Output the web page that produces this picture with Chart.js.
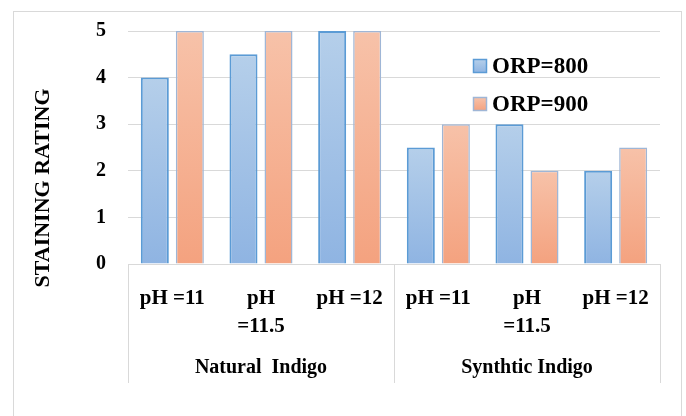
<!DOCTYPE html>
<html>
<head>
<meta charset="utf-8">
<script src="https://cdn.jsdelivr.net/npm/chart.js@4.4.0/dist/chart.umd.min.js"></script>
<style>
  html, body { margin: 0; padding: 0; background: #fff; }
  #wrap { width: 686px; height: 416px; }
</style>
</head>
<body>
<div id="wrap"><canvas id="c" width="686" height="416"></canvas></div>
<script>
const groups = ["Natural  Indigo", "Synthtic Indigo"];
const groupSize = 3;
const phLabels = [["pH =11"], ["pH", "=11.5"], ["pH =12"], ["pH =11"], ["pH", "=11.5"], ["pH =12"]];
const seriesNames = ["ORP=800", "ORP=900"];
const orp800 = [4, 4.5, 5, 2.5, 3, 2];
const orp900 = [5, 5, 5, 3, 2, 2.5];
const yTicks = [0, 1, 2, 3, 4, 5];
const yTitle = "STAINING RATING";

const FONT = "'Liberation Serif', serif";
const palettes = [
  { top: '#b5cfea', bottom: '#8fb4e2', border: '#5b9bd5', bw: 2 },
  { top: '#f7c2a9', bottom: '#f4a27f', border: '#9fb6d6', bw: 1.5 }
];

function barGradient(ctx, pal) {
  const chart = ctx.chart;
  const area = chart.chartArea;
  if (!area) return pal.bottom;
  const ys = chart.scales.y;
  const v = ctx.raw;
  const top = (typeof v === 'number') ? ys.getPixelForValue(v) : area.top;
  const bottom = ys.getPixelForValue(0);
  const g = chart.ctx.createLinearGradient(0, top, 0, Math.max(bottom, top + 1));
  g.addColorStop(0, pal.top);
  g.addColorStop(1, pal.bottom);
  return g;
}

const frameAndGroups = {
  id: 'frameAndGroups',
  beforeDraw(chart) {
    const c = chart.ctx;
    c.save();
    c.strokeStyle = '#d9d9d9';
    c.lineWidth = 1;
    c.strokeRect(13.5, 11.5, 668, 420);
    c.restore();
  },
  afterDraw(chart) {
    const c = chart.ctx;
    const xs = chart.scales.x;
    const area = chart.chartArea;
    const n = phLabels.length;
    const cw = (xs.right - xs.left) / n;
    c.save();
    c.strokeStyle = '#d9d9d9';
    c.lineWidth = 1;
    for (let gi = 0; gi <= groups.length; gi++) {
      const idx = gi * groupSize;
      const x = Math.round(idx < n ? xs.getPixelForValue(idx) - cw / 2 : xs.getPixelForValue(n - 1) + cw / 2) + 0.5;
      c.beginPath();
      c.moveTo(x, area.bottom);
      c.lineTo(x, 383);
      c.stroke();
    }
    c.fillStyle = '#000';
    c.font = "bold 20px " + FONT;
    c.textAlign = 'center';
    c.textBaseline = 'middle';
    groups.forEach((g, gi) => {
      const l = xs.getPixelForValue(gi * groupSize) - cw / 2;
      const r = xs.getPixelForValue(gi * groupSize + groupSize - 1) + cw / 2;
      c.fillText(g, (l + r) / 2, 368);
    });
    // y axis title
    c.save();
    c.translate(43, 188);
    c.rotate(-Math.PI / 2);
    c.font = "bold 22px " + FONT;
    c.fillText(yTitle, 0, 0);
    c.restore();
    // legend
    c.font = "bold 23px " + FONT;
    c.textAlign = 'left';
    chart.data.datasets.forEach((ds, i) => {
      const pal = palettes[i];
      const bx = 473.5, by = 59.5 + i * 38, bs = 13;
      const g = c.createLinearGradient(0, by, 0, by + bs);
      g.addColorStop(0, pal.top);
      g.addColorStop(1, pal.bottom);
      c.fillStyle = g;
      c.fillRect(bx, by, bs, bs);
      c.strokeStyle = pal.border;
      c.lineWidth = 1.5;
      c.strokeRect(bx, by, bs, bs);
      c.fillStyle = '#000';
      c.fillText(ds.label, 492, by + bs / 2 + 1);
    });
    c.restore();
  }
};

new Chart(document.getElementById('c'), {
  type: 'bar',
  data: {
    labels: phLabels,
    datasets: [
      {
        label: seriesNames[0], data: orp800,
        backgroundColor: ctx => barGradient(ctx, palettes[0]),
        borderColor: palettes[0].border, borderWidth: palettes[0].bw,
        categoryPercentage: 0.79, barPercentage: 0.8
      },
      {
        label: seriesNames[1], data: orp900,
        backgroundColor: ctx => barGradient(ctx, palettes[1]),
        borderColor: palettes[1].border, borderWidth: palettes[1].bw,
        categoryPercentage: 0.79, barPercentage: 0.8
      }
    ]
  },
  options: {
    responsive: false,
    animation: false,
    devicePixelRatio: 1,
    layout: { padding: { left: 14, right: 26, top: 31, bottom: 0 } },
    plugins: { legend: { display: false }, tooltip: { enabled: false } },
    scales: {
      x: {
        grid: { display: false, drawTicks: false },
        border: { display: false },
        ticks: {
          color: '#000', padding: 20, maxRotation: 0, autoSkip: false,
          font: { family: FONT, size: 21, weight: 'bold', lineHeight: 1.35 }
        },
        afterFit(scale) { scale.height = 152; }
      },
      y: {
        min: 0, max: 5,
        afterBuildTicks(scale) { scale.ticks = yTicks.map(v => ({ value: v })); },
        grid: { color: '#d9d9d9', drawTicks: false, lineWidth: 1 },
        border: { display: false },
        ticks: {
          color: '#000', padding: 22,
          font: { family: FONT, size: 20, weight: 'bold', lineHeight: 1 }
        },
        afterFit(scale) { scale.width = 114; scale.paddingTop = 0; scale.paddingBottom = 0; }
      }
    }
  },
  plugins: [frameAndGroups]
});
</script>
</body>
</html>
